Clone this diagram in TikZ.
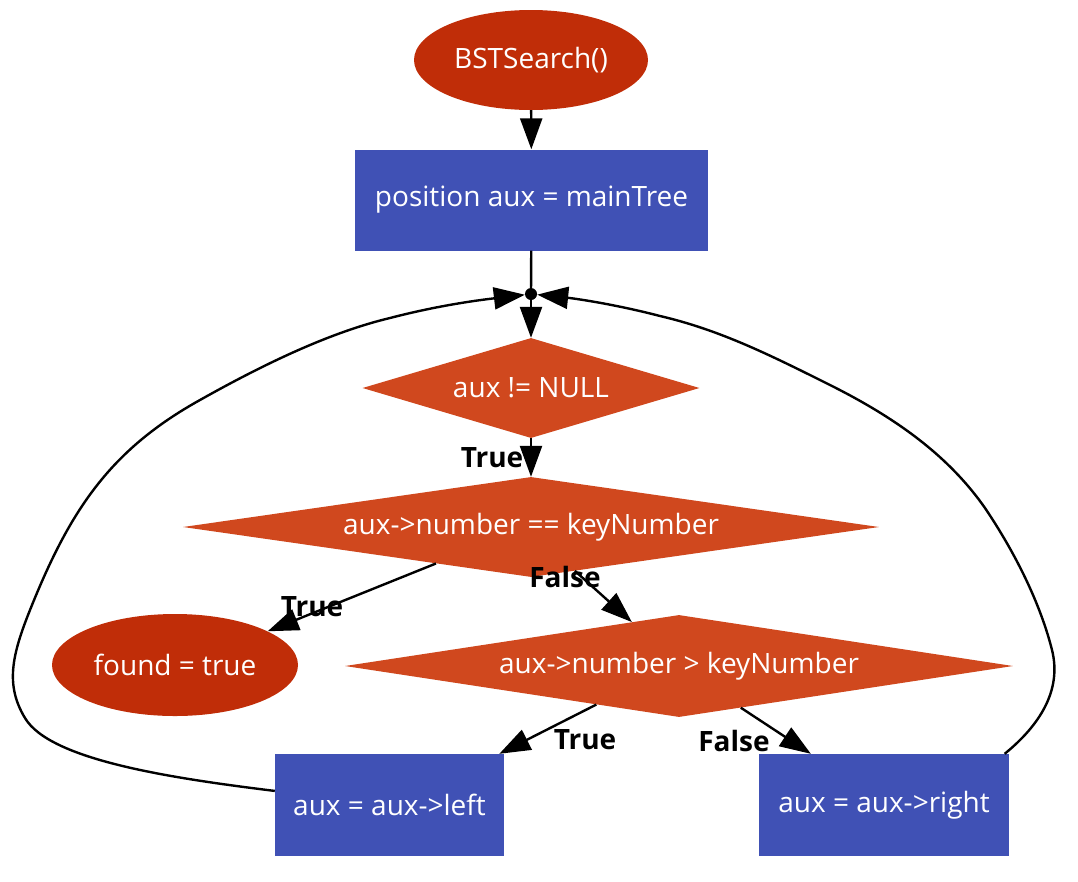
\documentclass[tikz,border=0pt]{standalone}
\usepackage{fontspec}
\setmainfont{Open Sans}
\usetikzlibrary{shapes.geometric,arrows.meta}
\definecolor{ovalred}{HTML}{C02D08}
\definecolor{diared}{HTML}{D0481E}
\definecolor{boxblue}{HTML}{4051B5}
\begin{document}
\begin{tikzpicture}[x=1pt,y=-1pt,
  txt/.style={text=white,font=\fontsize{28}{33}\selectfont},
  oval/.style={ellipse,fill=ovalred,inner sep=0pt},
  dia/.style={diamond,fill=diared,inner sep=0pt},
  box/.style={rectangle,fill=boxblue,inner sep=0pt,txt},
  lbl/.style={font=\fontsize{28}{33}\selectfont\bfseries,inner sep=0pt},
  edge/.style={line width=2.4pt,-{Triangle[length=31pt,width=22pt]}},
  plain/.style={line width=2.4pt}]
\useasboundingbox (0,0) rectangle (1078,881);

\node[oval,minimum width=234pt,minimum height=100pt,label={[txt]center:BSTSearch()}] (start) at (531,60) {};
\node[box,minimum width=353pt,minimum height=101pt] (init) at (531.5,200) {position aux = mainTree};
\node[circle,fill=black,inner sep=0pt,minimum size=12pt] (dot) at (531,294) {};
\node[dia,minimum width=337pt,minimum height=100pt,label={[txt]center:aux != NULL}] (d1) at (531,388) {};
\node[dia,minimum width=696pt,minimum height=100pt,label={[txt]center:aux->number == keyNumber}] (d2) at (531,527) {};
\node[oval,minimum width=246pt,minimum height=102pt,label={[txt]center:found = true}] (found) at (175,665) {};
\node[dia,minimum width=668pt,minimum height=102pt,label={[txt]center:aux->number > keyNumber}] (d3) at (679,666) {};
\node[box,minimum width=229pt,minimum height=102pt] (left) at (389.5,805) {aux = aux->left};
\node[box,minimum width=250pt,minimum height=102pt] (right) at (884,805) {aux = aux->right};

\node[lbl] (t1) at (492,458) {True};
\node[lbl] (t2) at (312,607) {True};
\node[lbl] (f1) at (565,577) {False};
\node[lbl] (t3) at (585,740) {True};
\node[lbl] (f2) at (734,741) {False};

\draw[edge] (start) -- (init);
\draw[plain] (init) -- (dot);
\draw[edge] (dot) -- (d1);
\draw[edge] (d1) -- (d2);
\draw[edge] (d2.201.5) -- (found.20.8);
\draw[edge] (d2.315) -- (d3.137);
\draw[edge] (d3.205.1) -- (left.25.5);
\draw[edge] (d3.326.1) -- (right.145.8);

\draw[edge] (left.173.5) .. controls (170,778) and (50,760) .. (25,718)
  .. controls (5,685) and (12,655) .. (30,610)
  .. controls (70,510) and (110,450) .. (200,400)
  .. controls (280,355) and (340,330) .. (390,318)
  .. controls (440,305) and (480,300) .. (dot);
\draw[edge] (right.23.3) .. controls (1040,725) and (1062,690) .. (1052,650)
  .. controls (1042,610) and (1020,560) .. (985,508)
  .. controls (950,458) and (900,420) .. (830,385)
  .. controls (770,355) and (720,330) .. (660,316)
  .. controls (610,303) and (570,298) .. (dot);
\end{tikzpicture}
\end{document}
